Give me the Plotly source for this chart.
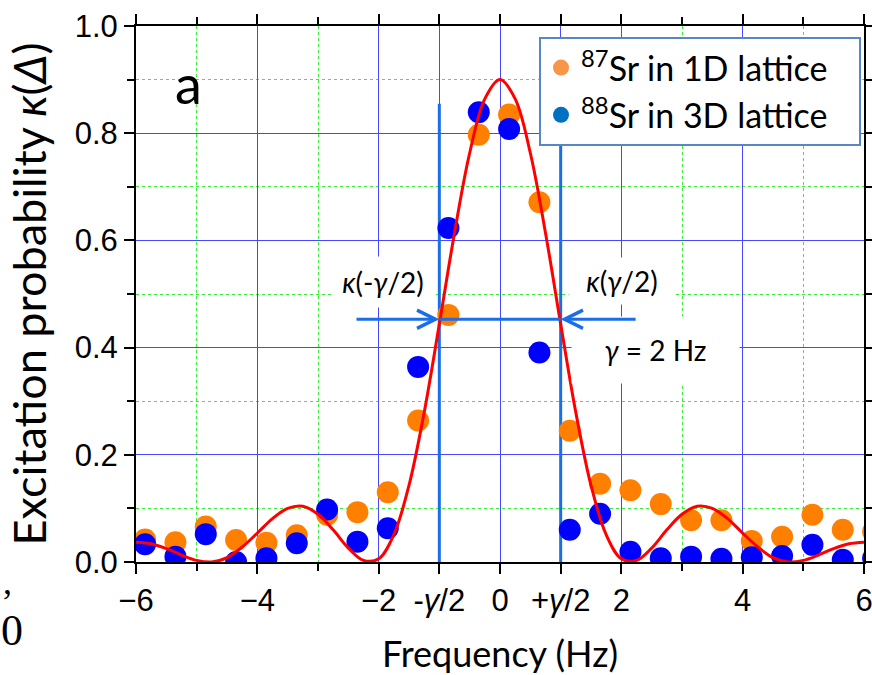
import plotly.graph_objects as go

# ---------------- data ----------------
freq = [-5.85, -5.35, -4.85, -4.35, -3.85, -3.35, -2.85, -2.35, -1.85, -1.35,
        -0.85, -0.35, 0.15, 0.65, 1.15, 1.65, 2.15, 2.65, 3.15, 3.65,
        4.15, 4.65, 5.15, 5.65, 6.15]
sr87_1d = [0.042, 0.037, 0.066, 0.041, 0.036, 0.050, 0.088, 0.093, 0.130, 0.264,
           0.461, 0.797, 0.835, 0.671, 0.245, 0.146, 0.134, 0.108, 0.078, 0.078,
           0.039, 0.047, 0.088, 0.060, 0.057]
sr88_3d = [0.033, 0.010, 0.052, 0.000, 0.007, 0.035, 0.098, 0.038, 0.063, 0.364,
           0.623, 0.839, 0.808, 0.391, 0.060, 0.090, 0.019, 0.007, 0.010, 0.006,
           0.009, 0.011, 0.032, 0.004, 0.007]

# theory curve (red line), every 0.25 Hz
curve_x = [-6.0, -5.75, -5.5, -5.25, -5.0, -4.75, -4.5, -4.25, -4.0, -3.75,
           -3.5, -3.25, -3.0, -2.75, -2.5, -2.25, -2.0, -1.75, -1.5, -1.25,
           -1.0, -0.75, -0.5, -0.25, 0.0, 0.25, 0.5, 0.75, 1.0, 1.25,
           1.5, 1.75, 2.0, 2.25, 2.5, 2.75, 3.0, 3.25, 3.5, 3.75,
           4.0, 4.25, 4.5, 4.75, 5.0, 5.25, 5.5, 5.75, 6.0]
curve_y = [0.037, 0.034, 0.025, 0.013, 0.003, 0.000, 0.008, 0.028, 0.054, 0.081,
           0.100, 0.104, 0.089, 0.060, 0.026, 0.003, 0.006, 0.051, 0.143, 0.279,
           0.444, 0.614, 0.763, 0.864, 0.900, 0.864, 0.763, 0.614, 0.444, 0.279,
           0.143, 0.051, 0.006, 0.003, 0.026, 0.060, 0.089, 0.104, 0.100, 0.081,
           0.054, 0.028, 0.008, 0.000, 0.003, 0.013, 0.025, 0.034, 0.037]

gamma = 2.0              # linewidth (Hz)
kappa_half = 0.453       # level of the arrow line
marker_top = 0.855       # top of the +-gamma/2 markers
arrow_left_end = -2.39
arrow_right_end = 2.26

x_tickvals = [-6, -4, -2, -1, 0, 1, 2, 4, 6]
x_ticktext = ["−6", "−4", "−2", "-<i>γ</i>/2", "0", "+<i>γ</i>/2", "2", "4", "6"]
y_tickvals = [0.0, 0.2, 0.4, 0.6, 0.8, 1.0]
y_ticktext = ["0.0", "0.2", "0.4", "0.6", "0.8", "1.0"]

name_87 = "<sup>87</sup>Sr in 1D lattice"
name_88 = "<sup>88</sup>Sr in 3D lattice"

# ---------------- styles ----------------
ORANGE = "#FF8000"
BLUE = "#0000FF"
LEG_ORANGE = "#F79646"
LEG_BLUE = "#0070C0"
LINE_BLUE = "#1A6EE8"
GRID_BLUE = "#4747FF"
GRID_GREEN = "#3CEB3C"
TXT = "Lato"
TICKF = "Liberation Sans"
PAD = "&nbsp;&nbsp;&nbsp;"

fig = go.Figure()

fig.add_trace(go.Scatter(x=freq, y=sr87_1d, mode="markers", showlegend=False,
                         marker=dict(color=ORANGE, size=22, line=dict(width=0))))
fig.add_trace(go.Scatter(x=freq, y=sr88_3d, mode="markers", showlegend=False,
                         marker=dict(color=BLUE, size=22, line=dict(width=0))))
fig.add_trace(go.Scatter(x=curve_x, y=curve_y, mode="lines", showlegend=False,
                         line=dict(color="#FF0000", width=3, shape="spline")))

# legend-only entries
fig.add_trace(go.Scatter(x=[None], y=[None], mode="markers", name=name_87 + PAD,
                         marker=dict(color=LEG_ORANGE, size=18)))
fig.add_trace(go.Scatter(x=[None], y=[None], mode="markers", name=name_88 + PAD,
                         marker=dict(color=LEG_BLUE, size=18)))

# +- gamma/2 vertical lines
for s in (-1, 1):
    fig.add_shape(type="line", xref="x", yref="y", x0=s * gamma / 2, x1=s * gamma / 2,
                  y0=0, y1=marker_top, line=dict(color=LINE_BLUE, width=3), layer="between")
# middle part of the horizontal arrow line
fig.add_shape(type="line", xref="x", yref="y", x0=-gamma / 2, x1=gamma / 2,
              y0=kappa_half, y1=kappa_half, line=dict(color=LINE_BLUE, width=3), layer="above")

ann_font = dict(family=TXT, size=28, color="black")
fig.add_annotation(x=-1.93, y=0.522, xref="x", yref="y", showarrow=False,
                   text="<i>κ</i>(-<i>γ</i>/2)", font=ann_font, bgcolor="white",
                   width=100, height=48)
fig.add_annotation(x=2.01, y=0.524, xref="x", yref="y", showarrow=False,
                   text="<i>κ</i>(<i>γ</i>/2)", font=ann_font, bgcolor="white",
                   width=104, height=44)
fig.add_annotation(x=2.555, y=0.396, xref="x", yref="y", showarrow=False,
                   text="<i>γ</i> = 2 Hz", font=ann_font, bgcolor="white",
                   width=165, height=64)
fig.add_annotation(x=-5.14, y=0.893, xref="x", yref="y", showarrow=False,
                   text="a", font=dict(family=TXT, size=54, color="black"))

# arrows pointing inward at +-gamma/2
fig.add_annotation(x=-gamma / 2, y=kappa_half, ax=arrow_left_end, ay=kappa_half,
                   xref="x", yref="y", axref="x", ayref="y", text="", showarrow=True,
                   arrowhead=5, arrowsize=1.2, arrowwidth=3, arrowcolor=LINE_BLUE)
fig.add_annotation(x=gamma / 2, y=kappa_half, ax=arrow_right_end, ay=kappa_half,
                   xref="x", yref="y", axref="x", ayref="y", text="", showarrow=True,
                   arrowhead=5, arrowsize=1.2, arrowwidth=3, arrowcolor=LINE_BLUE)

# stray glyphs at the lower-left edge of the original image
fig.add_annotation(xref="paper", yref="paper", x=(12 - 136) / 728, y=(562 - 630) / 536,
                   xanchor="center", yanchor="middle", showarrow=False, text="0",
                   font=dict(family="Liberation Serif", size=44, color="black"))
fig.add_annotation(xref="paper", yref="paper", x=(7 - 136) / 728, y=(562 - 582) / 536,
                   xanchor="center", yanchor="middle", showarrow=False, text=",",
                   font=dict(family="Liberation Serif", size=36, color="black"))

axis_common = dict(
    ticks="outside", ticklen=10, tickwidth=2, tickcolor="black",
    showline=True, linewidth=2, linecolor="black", mirror="ticks",
    showgrid=True, gridcolor=GRID_BLUE, gridwidth=1, zeroline=False,
    tickfont=dict(family=TICKF, size=31, color="black"),
    ticklabeloverflow="allow",
)

fig.update_xaxes(
    range=[-6, 6], tickmode="array", tickvals=x_tickvals, ticktext=x_ticktext,
    minor=dict(tickmode="linear", tick0=-6, dtick=1, ticks="outside", ticklen=7,
               tickwidth=2, tickcolor="black", showgrid=True, gridcolor=GRID_GREEN,
               griddash="dot", gridwidth=1),
    title=dict(text="Frequency (Hz)", font=dict(family=TXT, size=36, color="black"),
               standoff=26),
    ticklabelstandoff=0,
    **axis_common)
fig.update_yaxes(
    range=[0, 1], tickmode="array", tickvals=y_tickvals, ticktext=y_ticktext,
    minor=dict(tickmode="linear", tick0=0, dtick=0.1, ticks="outside", ticklen=7,
               tickwidth=2, tickcolor="black", showgrid=True, gridcolor=GRID_GREEN,
               griddash="dot", gridwidth=1),
    title=dict(text="Excitation probability <i>κ</i>(<i>Δ</i>)",
               font=dict(family=TXT, size=45, color="black"), standoff=14),
    ticklabelstandoff=0,
    **axis_common)

fig.update_layout(
    template="none",
    width=872, height=675,
    margin=dict(l=136, r=8, t=26, b=113, autoexpand=False),
    paper_bgcolor="white", plot_bgcolor="white",
    legend=dict(x=0.5536, y=0.9795, xanchor="left", yanchor="top",
                bgcolor="white", bordercolor="#5B86C5", borderwidth=2,
                font=dict(family=TXT, size=34, color="black")),
)

fig.write_html("out.html")
